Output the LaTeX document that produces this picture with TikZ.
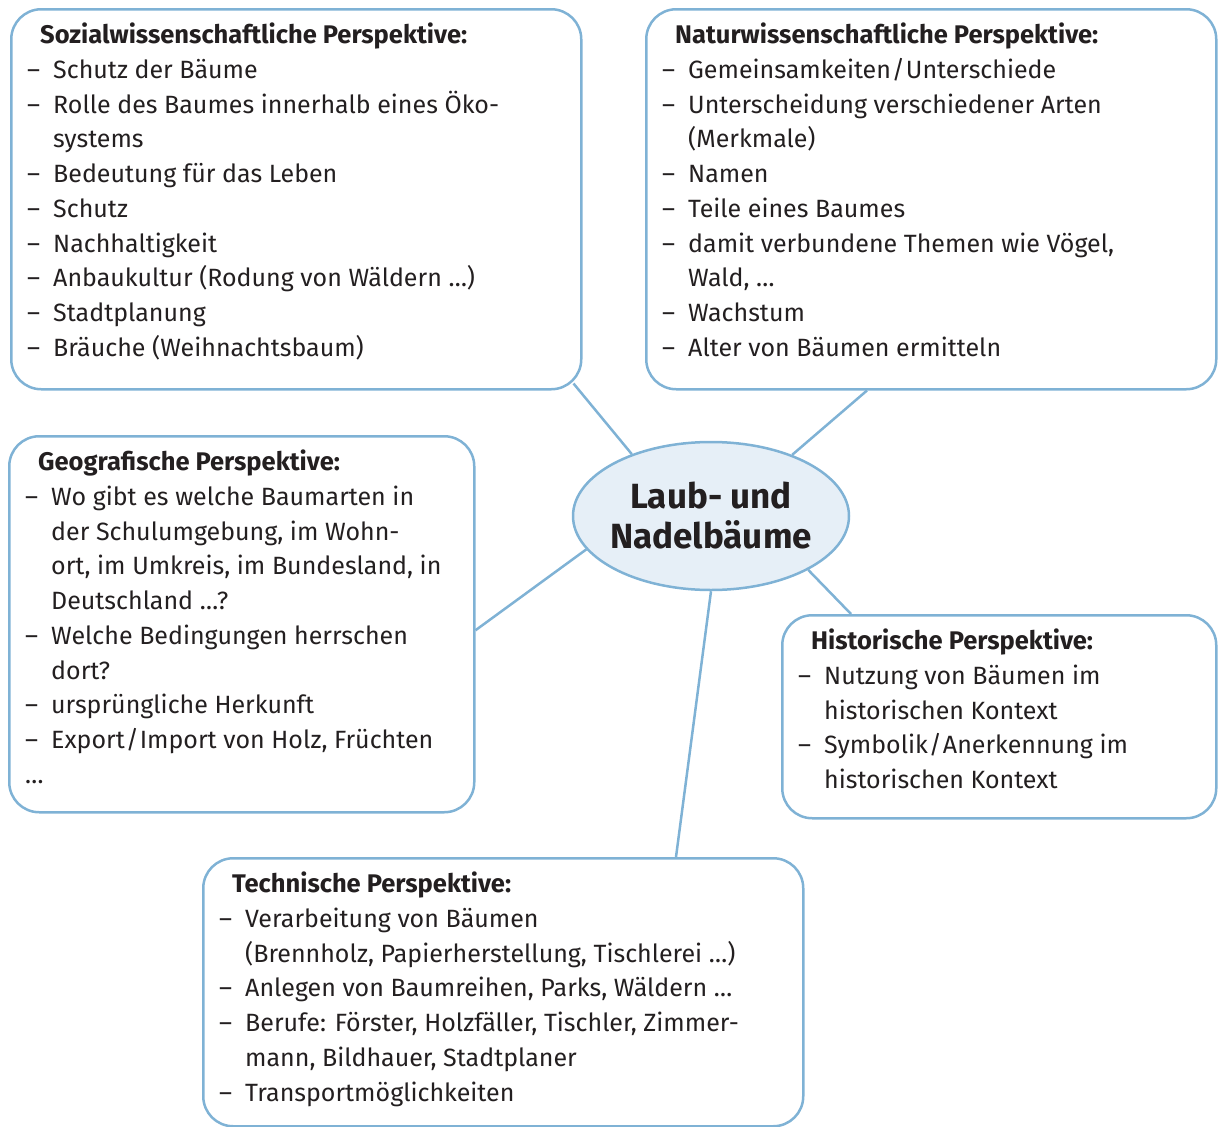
\documentclass[tikz,border=0pt]{standalone}
\usepackage{fontspec}
\setmainfont{Fira Sans}
\usetikzlibrary{shapes.geometric,calc}
\definecolor{lblue}{HTML}{7FB2D5}
\definecolor{efill}{HTML}{E6EFF7}
\definecolor{ink}{HTML}{231F20}
\newcommand{\itm}{\makebox[26pt][l]{–}}
\newcommand{\cnt}{\hspace*{26pt}}
\newcommand{\slsh}{\kern1pt/\kern1pt}
\newcommand{\ttl}[1]{\rule{0pt}{20pt}\hspace*{13pt}{\fontsize{25.5}{34.7}\selectfont\bfseries #1}}
\begin{document}
\begin{tikzpicture}[x=1pt,y=-1pt,
  pbox/.style={draw=lblue, line width=2.5pt, rounded corners=30pt, anchor=north west, inner sep=0pt},
  ptext/.style={anchor=north west, align=left, inner sep=0pt, text=ink, font=\fontsize{25}{34.7}\selectfont},
  link/.style={draw=lblue, line width=2.5pt}]
\useasboundingbox (0,0) rectangle (1219,1127);

% boxes
\node[pbox, minimum width=570pt, minimum height=380pt] (soz) at (10,8) {};
\node[pbox, minimum width=570pt, minimum height=380pt] (nat) at (645,8) {};
\node[pbox, minimum width=465pt, minimum height=376pt] (geo) at (8,435) {};
\node[pbox, minimum width=434pt, minimum height=203pt] (hist) at (781,614) {};
\node[pbox, minimum width=600pt, minimum height=268pt] (tech) at (202,857) {};

% centre
\node[ellipse, draw=lblue, fill=efill, line width=2.5pt, minimum width=276pt, minimum height=148pt,
      inner sep=-20pt, align=center, text=ink, font=\fontsize{35}{40}\selectfont\bfseries] (c) at (711,516)
      {Laub- und\\Nadelbäume};

% texts (north = first baseline - 20)
\node[ptext] (sozT) at (27,23) {%
\ttl{Sozialwissenschaftliche Perspektive:}\\
\itm Schutz der Bäume\\
\itm Rolle des Baumes innerhalb eines Öko-\\
\cnt systems\\
\itm Bedeutung für das Leben\\
\itm Schutz\\
\itm Nachhaltigkeit\\
\itm Anbaukultur (Rodung von Wäldern …)\\
\itm Stadtplanung\\
\itm Bräuche (Weihnachtsbaum)};

\node[ptext] (natT) at (662,23) {%
\ttl{Naturwissenschaftliche Perspektive:}\\
\itm Gemeinsamkeiten\slsh Unterschiede\\
\itm Unterscheidung verschiedener Arten\\
\cnt (Merkmale)\\
\itm Namen\\
\itm Teile eines Baumes\\
\itm damit verbundene Themen wie Vögel,\\
\cnt Wald, …\\
\itm Wachstum\\
\itm Alter von Bäumen ermitteln};

\node[ptext] (geoT) at (25,450) {%
\ttl{Geografische Perspektive:}\\
\itm Wo gibt es welche Baumarten in\\
\cnt der Schulumgebung, im Wohn-\\
\cnt ort, im Umkreis, im Bundesland, in\\
\cnt Deutschland …?\\
\itm Welche Bedingungen herrschen\\
\cnt dort?\\
\itm ursprüngliche Herkunft\\
\itm Export\slsh Import von Holz, Früchten\\
…};

\node[ptext] (histT) at (798,629) {%
\ttl{Historische Perspektive:}\\
\itm Nutzung von Bäumen im\\
\cnt historischen Kontext\\
\itm Symbolik\slsh Anerkennung im\\
\cnt historischen Kontext};

\node[ptext] (techT) at (219,872) {%
\ttl{Technische Perspektive:}\\
\itm Verarbeitung von Bäumen\\
\cnt (Brennholz, Papierherstellung, Tischlerei …)\\
\itm Anlegen von Baumreihen, Parks, Wäldern …\\
\itm Berufe: Förster, Holzfäller, Tischler, Zimmer-\\
\cnt mann, Bildhauer, Stadtplaner\\
\itm Transportmöglichkeiten};

% connectors
\coordinate (p1) at ($(soz.south east)+(-9,-7)$);
\coordinate (p2) at ($(nat.south west)+(222,0)$);
\coordinate (p3) at ($(geo.east)+(0,6)$);
\coordinate (p4) at ($(hist.north west)+(70,0)$);
\coordinate (p5) at ($(tech.north west)+(474,0)$);
\draw[link] (p1) -- (c.142.7);
\draw[link] (p2) -- (c.37.3);
\draw[link] (p3) -- (c.195.8);
\draw[link] (p4) -- (c.331.1);
\draw[link] (p5) -- (c.south);
\end{tikzpicture}
\end{document}
